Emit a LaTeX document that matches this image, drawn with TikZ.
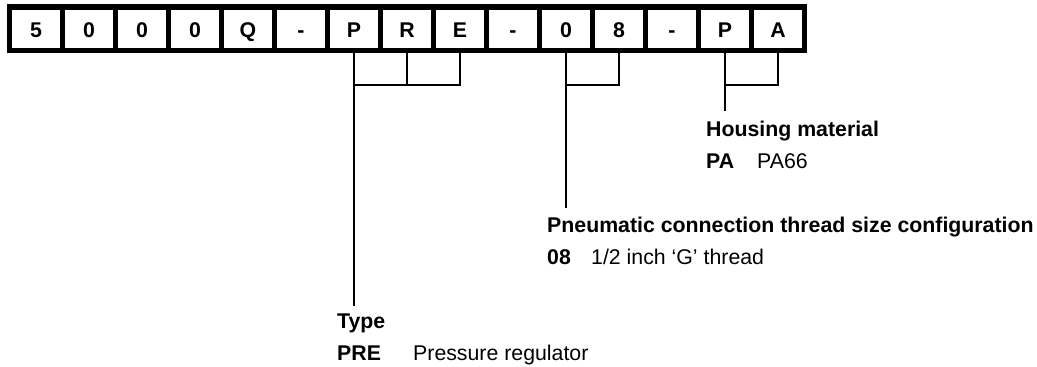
\documentclass[tikz,border=0pt]{standalone}
\usepackage{fontspec}
\setmainfont{Liberation Sans}
\begin{document}
\begin{tikzpicture}[
	x=1pt, y=-1pt,
	cell/.style={draw=black, line width=5.5pt, minimum width=53pt,
	minimum height=43.5pt, inner sep=0pt, text height=18pt, text depth=0pt,
	font=\fontsize{21.3}{25}\selectfont\bfseries},
	lead/.style={draw=black, line width=2pt},
	head/.style={anchor=base west, inner sep=0pt,
	font=\fontsize{21.3}{25}\selectfont\bfseries},
	entry/.style={anchor=base west, inner sep=0pt,
	font=\fontsize{21.3}{25}\selectfont},
	]
	\useasboundingbox (0,0) rectangle (1037,367);
	\foreach \ch [count=\i from 0] in {5,0,0,0,Q,-,P,R,E,-,0,8,-,P,A}
		\node[cell] (c\i) at (36+53*\i, 28.5) {\ch};

	\node[head] (type) at (337,328) {Type};
	\node[head] (pre) at (337,360) {PRE};
	\node[entry] (preval) at (413,360) {Pressure regulator};

	\node[head] (thread) at (547,232) {Pneumatic connection thread size configuration};
	\node[head] (g08) at (547,264) {08};
	\node[entry] (g08val) at (591,264) {1/2 inch ‘G’ thread};

	\node[head] (housing) at (706,136) {Housing material};
	\node[head] (pa) at (706,168) {PA};
	\node[entry] (paval) at (757,168) {PA66};

	\draw[lead] (c6.south) -- ++(0,31.75) -| (c8.south);
	\draw[lead] (c7.south) -- ++(0,31.75);
	\draw[lead, shorten >=7.5pt] (c6.south) -- (c6.south |- type.north);

	\draw[lead] (c10.south) -- ++(0,31.75) -| (c11.south);
	\draw[lead, shorten >=8pt] (c10.south) -- (c10.south |- thread.north);

	\draw[lead] (c13.south) -- ++(0,31.75) -| (c14.south);
	\draw[lead, shorten >=9pt] (c13.south) -- (c13.south |- housing.north);
\end{tikzpicture}
\end{document}
